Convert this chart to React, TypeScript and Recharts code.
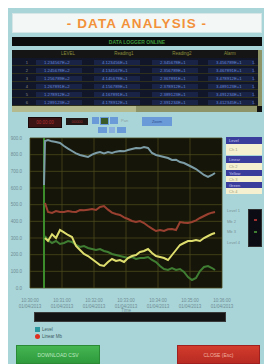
import React from 'react';
import { LineChart, Line, XAxis, YAxis, CartesianGrid, ReferenceLine } from 'recharts';

const timeValues = [14, 15, 18, 22, 26, 30, 34, 38, 42, 46, 50, 54, 58, 62, 66, 70, 74, 78, 82, 86, 90, 94, 98, 102, 106, 110, 114, 118, 122, 126, 130, 134, 138, 142, 146, 150, 154, 158, 162, 166, 170, 174, 178, 182, 185];
const levelValues = [618, 882, 888, 880, 876, 870, 852, 836, 822, 808, 798, 792, 786, 800, 810, 816, 808, 816, 810, 818, 822, 820, 828, 834, 840, 838, 846, 840, 810, 798, 792, 786, 780, 768, 770, 756, 750, 738, 726, 714, 696, 678, 666, 678, 690];
const linearValues = [null, 510, 456, 450, 462, 456, 456, 462, 458, 456, 468, 466, 470, 474, 468, 486, 492, 470, 452, 444, 438, 424, 414, 402, 396, 402, 390, 372, 356, 342, 348, 342, 352, 354, 348, 396, 392, 390, 396, 406, 420, 432, 444, 452, 456];
const yellowValues = [null, 300, 282, 322, 300, 348, 334, 318, 306, 252, 228, 204, 192, 174, 156, 138, 132, 156, 174, 162, 168, 156, 180, 192, 198, 216, 222, 234, 210, 192, 186, 180, 168, 198, 228, 258, 270, 282, 282, 288, 282, 300, 312, 324, 330];
const greenValues = [null, 312, 288, 270, 282, 264, 270, 282, 276, 258, 246, 252, 240, 234, 228, 234, 222, 216, 204, 198, 192, 186, 180, 186, 174, 180, 180, 186, 168, 156, 132, 114, 108, 120, 108, 114, 96, 66, 48, 60, 102, 126, 132, 120, 108];

const xTicks = [0, 32, 64, 96, 128, 160, 192];
const xTickTimes = ['10:30:00', '10:31:00', '10:32:00', '10:33:00', '10:34:00', '10:35:00', '10:36:00'];
const xTickDates = ['01/04/2013', '01/04/2013', '01/04/2013', '01/04/2013', '01/04/2013', '01/04/2013', '01/04/2013'];
const yTicks = [0, 100, 200, 300, 400, 500, 600, 700, 800, 900];
const cursorTime = 14;

const tableHeaders = ['LEVEL', 'Reading1', 'Reading2', 'Alarm'];
const tableRows = [
  ['1', '1.234567E+2', '4.123456E+1', '2.345678E+1', '3.456789E+1'],
  ['2', '1.245678E+2', '4.134567E+1', '2.356789E+1', '3.467891E+1'],
  ['3', '1.256789E+2', '4.145678E+1', '2.367891E+1', '3.478912E+1'],
  ['4', '1.267891E+2', '4.156789E+1', '2.378912E+1', '3.489123E+1'],
  ['5', '1.278912E+2', '4.167891E+1', '2.389123E+1', '3.491234E+1'],
  ['6', '1.289123E+2', '4.178912E+1', '2.391234E+1', '3.412345E+1'],
];
const sideLegend = ['Level', 'Ch 1', 'Linear', 'Ch 2', 'Yellow', 'Ch 3', 'Green', 'Ch 4'];
const sideLabels = ['Level 1', 'Mb 2', 'Mb 3', 'Level 4'];

const chartData = timeValues.map((t, i) => ({
  t,
  level: levelValues[i],
  linear: linearValues[i],
  yellow: yellowValues[i],
  green: greenValues[i],
}));

const FONT = '"Liberation Sans", "DejaVu Sans", sans-serif';

const XTick = (props: any) => {
  const { x, y, payload } = props;
  const idx = xTicks.indexOf(payload.value);
  return (
    <g transform={`translate(${x},${y})`}>
      <text x={0} y={6} textAnchor="middle" fontSize={4.5} fill="#6f8c92" fontFamily={FONT}>{xTickTimes[idx]}</text>
      <text x={0} y={12} textAnchor="middle" fontSize={4.5} fill="#6f8c92" fontFamily={FONT}>{xTickDates[idx]}</text>
    </g>
  );
};

const abs = (left: number, top: number, width: number, height: number, extra: any = {}) => ({
  position: 'absolute' as const, left, top, width, height, ...extra,
});

export default function App() {
  return (
    <div style={{ position: 'fixed', left: 8, top: 8, width: 256, height: 356, background: '#a9d5d9', fontFamily: FONT, overflow: 'hidden' }}>
      {/* title */}
      <div style={abs(4, 5, 250, 20, { background: '#f3f8f7', border: '1px solid #d6e6e6', boxSizing: 'border-box', display: 'flex', alignItems: 'center', justifyContent: 'center', color: '#f2913a', fontWeight: 'bold', fontSize: 13.5, letterSpacing: 1.1 })}>
        - DATA ANALYSIS -
      </div>
      {/* black status bar */}
      <div style={abs(4, 29, 250, 9, { background: '#0c0c0c', display: 'flex', alignItems: 'center', justifyContent: 'center', color: '#3f9a3c', fontSize: 5, fontWeight: 'bold' })}>
        DATA LOGGER ONLINE
      </div>
      {/* table */}
      <div style={abs(4, 42, 250, 56, { background: '#111629' })}>
        <div style={abs(0, 0, 246, 8, { background: '#151515' })}>
          {tableHeaders.map((h, i) => (
            <div key={h} style={abs([38, 94, 152, 200][i], 1, 36, 6, { color: '#8c8c3c', fontSize: 4.5, textAlign: 'center' })}>{h}</div>
          ))}
        </div>
        {tableRows.map((row, r) => (
          <div key={r} style={abs(0, 9 + r * 8, 246, 7, { borderBottom: '1px solid #2e2f1c', boxSizing: 'border-box' })}>
            <div style={abs(2, 1, 14, 5, { color: '#8a8a8a', fontSize: 4, textAlign: 'right' })}>{row[0]}</div>
            {row.slice(1).map((c, i) => (
              <div key={i} style={abs([24, 82, 140, 196][i], 0.5, 46, 5.5, { background: '#182346', color: '#6b88d8', fontSize: 4.3, paddingLeft: 8, boxSizing: 'border-box', whiteSpace: 'nowrap', overflow: 'hidden' })}>{c}</div>
            ))}
            <div style={abs(240, 1, 6, 5, { color: '#6b88d8', fontSize: 4 })}>1.</div>
          </div>
        ))}
        <div style={abs(246, 0, 4, 56, { background: '#8e9466' })} />
      </div>
      {/* horizontal scrollbar */}
      <div style={abs(4, 98, 250, 6, { background: '#8f9468' })}>
        <div style={abs(0, 0, 124, 6, { background: '#b5b98e' })} />
        <div style={abs(245, 0, 5, 6, { background: '#111' })} />
      </div>

      {/* chart */}
      <div style={abs(0, 120, 234, 190)}>
        <LineChart width={234} height={190} data={chartData} margin={{ top: 10, right: 20, bottom: 8, left: 0 }}>
          <CartesianGrid stroke="#4a4a1c" strokeWidth={0.8} fill="#161509" fillOpacity={1} />
          <XAxis dataKey="t" type="number" domain={[0, 192]} ticks={xTicks} tick={<XTick />} tickLine={false} axisLine={false} height={22} interval={0}
            label={{ value: 'Time', position: 'insideBottom', offset: -2, fontSize: 4.5, fill: '#6f8c92' }} />
          <YAxis type="number" domain={[0, 900]} ticks={yTicks} width={22} tickLine={false} axisLine={false} interval={0}
            tick={{ fontSize: 4.5, fill: '#6f8c92', fontFamily: FONT }} tickFormatter={(v: number) => v.toFixed(1)} />
          <ReferenceLine x={cursorTime} stroke="#3d8c2c" strokeWidth={2} />
          <Line type="linear" dataKey="green" stroke="#3f7d33" strokeWidth={2} dot={false} isAnimationActive={false} />
          <Line type="linear" dataKey="yellow" stroke="#dede6e" strokeWidth={2} dot={false} isAnimationActive={false} />
          <Line type="linear" dataKey="linear" stroke="#9a4030" strokeWidth={2} dot={false} isAnimationActive={false} />
          <Line type="linear" dataKey="level" stroke="#7c9ca6" strokeWidth={2} dot={false} isAnimationActive={false} />
        </LineChart>
      </div>

      {/* controls */}
      <div style={abs(20, 109, 34, 11, { background: '#3d1414', border: '1px solid #1a0a0a', boxSizing: 'border-box', color: '#b03030', fontSize: 4.5, display: 'flex', alignItems: 'center', justifyContent: 'center' })}>00:00:00</div>
      <div style={abs(58, 110, 22, 7, { background: '#231818', color: '#a03030', fontSize: 4, display: 'flex', alignItems: 'center', justifyContent: 'center' })}>00000</div>
      <div style={abs(84, 109, 7, 7, { background: '#6a9ad8' })} />
      <div style={abs(92, 109, 9, 8, { background: '#3a5a2a', border: '1px solid #6a9ad8', boxSizing: 'border-box' })} />
      <div style={abs(102, 109, 8, 7, { background: '#6a9ad8' })} />
      <div style={abs(113, 110, 12, 6, { color: '#8aa0a0', fontSize: 4 })}>Pan</div>
      <div style={abs(134, 109, 30, 9, { background: '#6a9ad8', color: '#2e4f90', fontSize: 4, display: 'flex', alignItems: 'center', justifyContent: 'center' })}>Zoom</div>
      <div style={abs(90, 119, 9, 6, { background: '#6a9ad8' })} />
      <div style={abs(101, 119, 6, 6, { background: '#8ab0e0' })} />
      <div style={abs(109, 119, 9, 6, { background: '#6a9ad8' })} />

      {/* side legend */}
      {sideLegend.map((s, i) => {
        const tops = [129, 136, 148, 155, 162, 168, 174, 180];
        const hs = [7, 11, 7, 7, 6, 6, 6, 6];
        const blue = i % 2 === 0;
        return (
          <div key={i} style={abs(218, tops[i], 36, hs[i], { background: blue ? '#3a3d9c' : '#f5f1d0', color: blue ? '#c8c8f0' : '#a0a080', fontSize: 4, paddingLeft: 3, boxSizing: 'border-box', display: 'flex', alignItems: 'center' })}>{s}</div>
        );
      })}
      {sideLabels.map((s, i) => (
        <div key={s} style={abs(219, 200 + i * 10.5, 20, 5, { color: '#7a9094', fontSize: 4 })}>{s}</div>
      ))}
      <div style={abs(240, 201, 14, 38, { background: '#0c0c14', border: '1px solid #303030', boxSizing: 'border-box' })}>
        <div style={abs(5, 9, 3, 2, { background: '#a03030' })} />
        <div style={abs(5, 21, 3, 2, { background: '#3f7d33' })} />
      </div>

      {/* bottom bar and legend */}
      <div style={abs(26, 304, 192, 10, { background: '#131313', border: '1px solid #3a3a3a', boxSizing: 'border-box' })} />
      <div style={abs(27, 319, 5, 5, { background: '#2a9aa0' })} />
      <div style={abs(34, 319, 30, 5, { color: '#3c5a5e', fontSize: 4.5, lineHeight: '5px' })}>Level</div>
      <div style={abs(27, 326, 5, 5, { background: '#e03020', borderRadius: 3 })} />
      <div style={abs(34, 326, 40, 5, { color: '#3c5a5e', fontSize: 4.5, lineHeight: '5px' })}>Linear Mb</div>

      {/* buttons */}
      <div style={abs(8, 337, 84, 19, { background: 'linear-gradient(#45b552, #2e9a3c)', border: '1px solid #2a8a35', boxSizing: 'border-box', color: '#bfe8c0', fontSize: 5, display: 'flex', alignItems: 'center', justifyContent: 'center' })}>DOWNLOAD CSV</div>
      <div style={abs(169, 337, 83, 19, { background: 'linear-gradient(#d23c2c, #b82a22)', border: '1px solid #a02020', boxSizing: 'border-box', color: '#f0b0a0', fontSize: 5, display: 'flex', alignItems: 'center', justifyContent: 'center' })}>CLOSE (Esc)</div>
    </div>
  );
}
